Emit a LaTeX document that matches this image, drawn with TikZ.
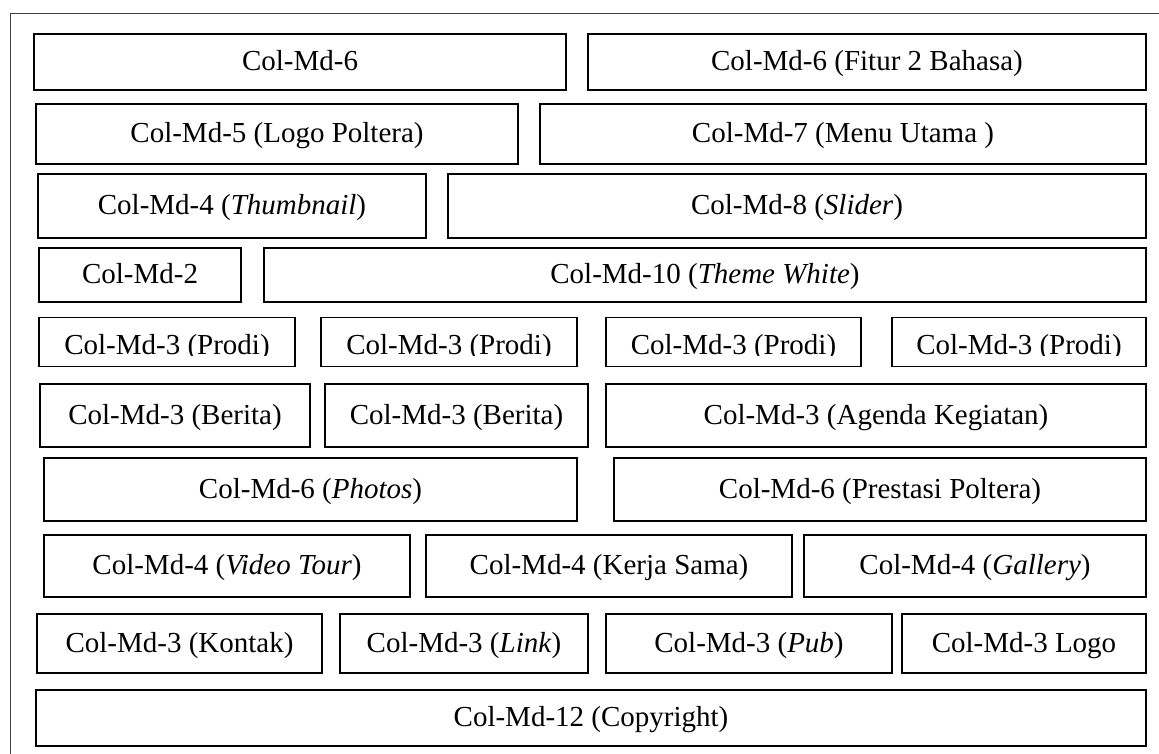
\documentclass[tikz,border=0pt]{standalone}
\usepackage{fontspec}
\setmainfont{Liberation Serif}

\tikzset{
  colbox/.style={draw=black, line width=1.2pt, inner sep=0pt, outer sep=0pt,
    text height=20pt, text depth=3pt, font=\fontsize{29}{31}\selectfont},
  prodibox/.style={colbox, text height=25.6pt, text depth=0pt},
  frameline/.style={draw=black!75, line width=1pt}
}

\begin{document}
\begin{tikzpicture}[x=1pt,y=-1pt]
\useasboundingbox (0,0) rectangle (1159,754);
% outer frame (only top and left visible)
\draw[frameline] (10,754) -- (10,14) -- (1159,14);
% grid rows
\foreach \nm/\xa/\ya/\xb/\yb/\txt in {
  a1/34/34/566/90/{Col-Md-6},
  a2/588/34/1146/90/{Col-Md-6 (Fitur 2 Bahasa)},
  b1/36/104/518/164/{Col-Md-5 (Logo Poltera)},
  b2/540/104/1146/164/{Col-Md-7 (Menu Utama )},
  c1/38/174/426/238/{Col-Md-4 (\textit{Thumbnail})},
  c2/448/174/1146/238/{Col-Md-8 (\textit{Slider})},
  d1/39/248/241/302/{Col-Md-2},
  d2/264/248/1146/302/{Col-Md-10 (\textit{Theme White})},
  f1/40/384/310/447/{Col-Md-3 (Berita)},
  f2/325/384/588/447/{Col-Md-3 (Berita)},
  f3/606/384/1146/447/{Col-Md-3 (Agenda Kegiatan)},
  g1/44/458/577/521/{Col-Md-6 (\textit{Photos})},
  g2/614/458/1146/521/{Col-Md-6 (Prestasi Poltera)},
  h1/44/535/410/597/{Col-Md-4 (\textit{Video Tour})},
  h2/426/535/792/597/{Col-Md-4 (Kerja Sama)},
  h3/804/535/1146/597/{Col-Md-4 (\textit{Gallery})},
  k1/37/614/322/673/{Col-Md-3 (Kontak)},
  k2/340/614/588/673/{Col-Md-3 (\textit{Link})},
  k3/606/614/892/673/{Col-Md-3 (\textit{Pub})},
  k4/902/614/1146/673/{Col-Md-3 Logo},
  m1/36/690/1146/746/{Col-Md-12 (Copyright)}}{
  \node[colbox, minimum width={\xb-\xa}, minimum height={\yb-\ya}] (\nm)
    at ({(\xa+\xb)/2},{(\ya+\yb)/2}) {\txt};
}
% prodi row, text cut at the bottom
\foreach \nm/\xa/\xb in {p1/39/295, p2/321/577, p3/606/861, p4/892/1146}{
  \node[prodibox, minimum width={\xb-\xa}, minimum height=49] (\nm)
    at ({(\xa+\xb)/2},342) {Col-Md-3 (Prodi)};
  \fill[white] ([xshift=0.7pt,yshift=0.7pt]\nm.south west)
    rectangle ([xshift=-0.7pt,yshift=10.5pt]\nm.south east);
}
\end{tikzpicture}
\end{document}
